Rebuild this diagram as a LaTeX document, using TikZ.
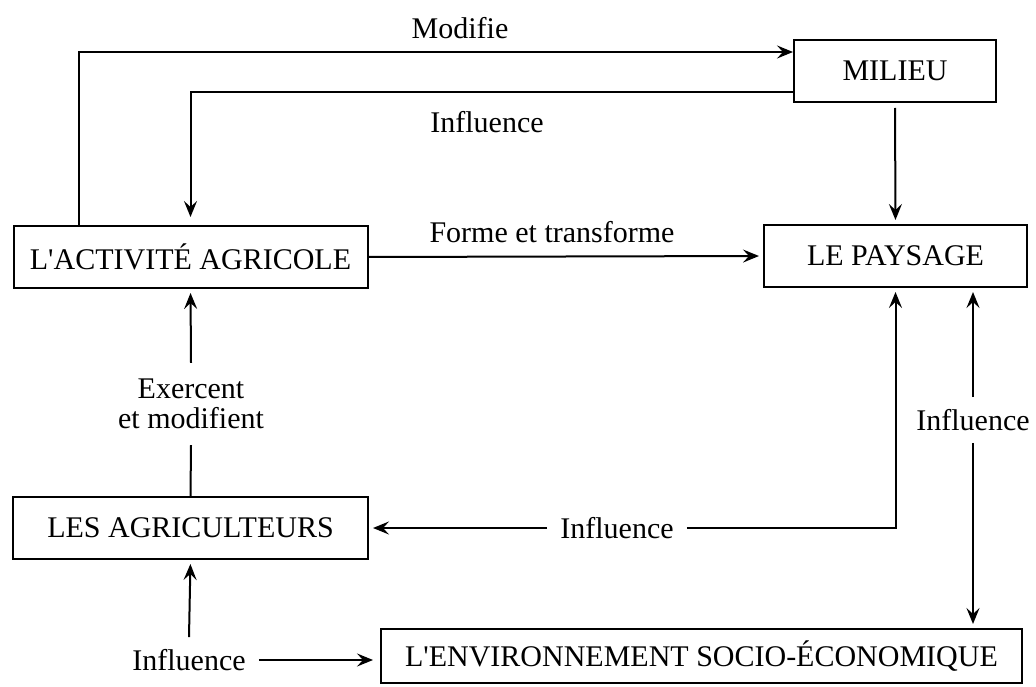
\documentclass[tikz,border=0pt]{standalone}
\usepackage{fontspec}
\setmainfont{Liberation Serif}
\usetikzlibrary{arrows.meta}

\begin{document}
\begin{tikzpicture}[x=1pt,y=-1pt,
  font=\fontsize{30}{30}\selectfont,
  boite/.style={draw,line width=2pt,inner sep=0pt,minimum height=62pt},
  etiq/.style={inner xsep=13pt,inner ysep=12pt,align=center},
  fl/.style={line width=2pt,-{Stealth[length=16pt,width=13pt,inset=6pt]},shorten >=4pt}]
\useasboundingbox (0,0) rectangle (1036,687);
% les boites
\node[boite,minimum width=354pt] (act) at (190.5,257) {L\textquotesingle ACTIVITÉ AGRICOLE};
\node[boite,minimum width=202pt] (milieu) at (895,71) {MILIEU};
\node[boite,minimum width=263pt] (paysage) at (895.5,256) {LE PAYSAGE};
\node[boite,minimum width=355pt] (agri) at (190.5,528) {LES AGRICULTEURS};
\node[boite,minimum width=641pt,minimum height=54pt] (env) at (701.5,656) {L\textquotesingle ENVIRONNEMENT SOCIO-ÉCONOMIQUE};
% les etiquettes
\node[] (tmod) at (460,28) {Modifie};
\node[] (tinf) at (487,122) {Influence};
\node[] (tforme) at (552,232) {Forme et transforme};
\node[etiq,inner sep=0pt,minimum height=82pt] (exer) at (191,404) {Exercent\\et modifient};
\node[etiq] (minf) at (617,528) {Influence};
\node[etiq] (rinf) at (973,420) {Influence};
\node[etiq] (binf) at (189,660) {Influence};
% les fleches
\draw[fl,shorten >=0pt] ([xshift=66pt]act.north west) |- ([yshift=19pt]milieu.west);
\draw[fl,shorten >=8pt] ([yshift=-21pt]milieu.west) -| (act.north);
\draw[fl] (act.east) -- (paysage.west);
\draw[fl,shorten <=5pt] (milieu.south) -- (paysage.north);
\draw[fl] (exer.north) -- (act.south);
\draw[line width=2pt] (agri.north) -- (exer.south);
\draw[fl] (minf.east) -| (paysage.south);
\draw[fl] (minf.west) -- (agri.east);
\draw[fl] (rinf.north) -- (rinf.north |- paysage.south);
\draw[fl] (rinf.south) -- (rinf.south |- env.north);
\draw[fl] (binf.north) -- (agri.south);
\draw[fl,shorten >=7pt] (binf.east) -- (binf.east -| env.west);
\end{tikzpicture}
\end{document}
